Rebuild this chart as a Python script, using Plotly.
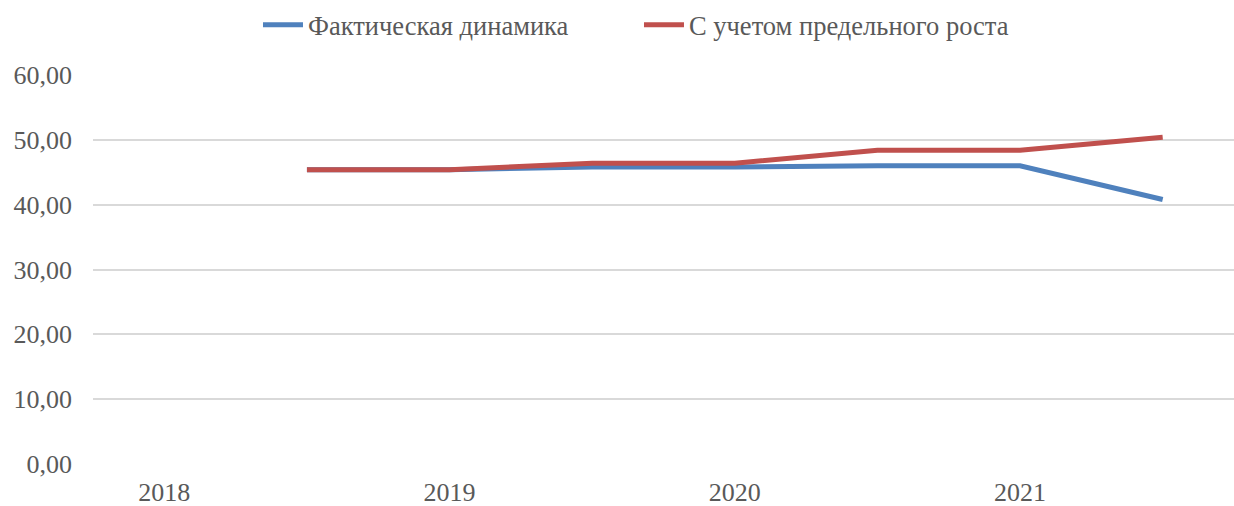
import plotly.graph_objects as go

# Data (half-year points)
periods = [2018.5, 2019.0, 2019.5, 2020.0, 2020.5, 2021.0, 2021.5]
actual = [45.4, 45.4, 45.8, 45.8, 46.0, 46.0, 40.8]
limit_growth = [45.4, 45.4, 46.4, 46.4, 48.4, 48.4, 50.4]
year_ticks = [2018, 2019, 2020, 2021]
year_labels = ["2018", "2019", "2020", "2021"]
y_ticks = [0, 10, 20, 30, 40, 50, 60]

series_names = ["Фактическая динамика", "С учетом предельного роста"]

FONT = "Liberation Serif, DejaVu Serif, serif"
TXT = "#595959"

fig = go.Figure()
fig.add_trace(go.Scatter(x=periods, y=actual, mode="lines", name=series_names[0],
                         line=dict(color="#4F81BD", width=5)))
fig.add_trace(go.Scatter(x=periods, y=limit_growth, mode="lines", name=series_names[1],
                         line=dict(color="#C0504D", width=5)))

fig.update_layout(
    width=1234, height=506,
    margin=dict(l=93, r=0, t=75, b=42, autoexpand=False),
    paper_bgcolor="white", plot_bgcolor="white",
    separators=", ",
    font=dict(family=FONT, size=25, color=TXT),
    showlegend=True,
    legend=dict(orientation="h", x=0.1446, xanchor="left",
                yref="container", y=0.9506, yanchor="middle",
                font=dict(family=FONT, size=26.5, color=TXT),
                entrywidth=326, entrywidthmode="pixels",
                itemwidth=40, traceorder="normal"),
    xaxis=dict(range=[2017.75, 2021.75], tickmode="array", tickvals=year_ticks,
               ticktext=year_labels, showgrid=False, zeroline=False, showline=False,
               ticks="", ticklabelstandoff=10,
               tickfont=dict(family=FONT, size=26, color=TXT)),
    yaxis=dict(range=[0, 60], tickmode="array", tickvals=y_ticks, tickformat=".2f",
               showgrid=True, gridcolor="#D9D9D9", gridwidth=1.5, zeroline=False,
               showline=False, ticks="", ticklabelstandoff=20,
               tickfont=dict(family=FONT, size=26, color=TXT)),
)

fig.write_html("out.html", config={"displayModeBar": False},
               post_script="document.body.style.margin='0';document.body.style.overflow='hidden';")
